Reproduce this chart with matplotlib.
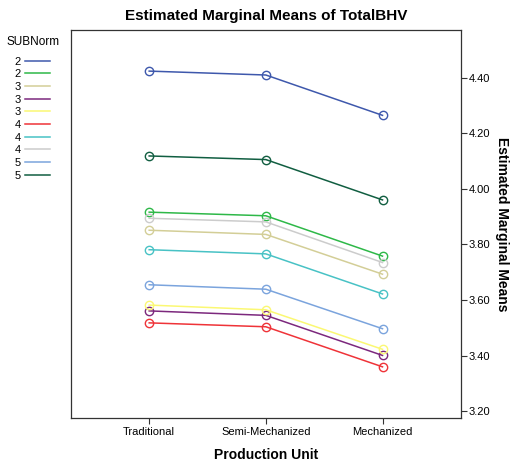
import matplotlib
matplotlib.use('Agg')
import matplotlib.pyplot as plt

plt.rcParams['font.family'] = ['Liberation Sans', 'DejaVu Sans']

# data
units = ['Traditional', 'Semi-Mechanized', 'Mechanized']
labels = ['2', '2', '3', '3', '3', '4', '4', '4', '5', '5']
colors = ['#3e58ac', '#2eb848', '#d3ce97', '#7c287d', '#fbf873',
          '#ef3338', '#48c2c5', '#cccccc', '#7ba4dd', '#115e41']
means = [
    [4.423, 4.409, 4.264],
    [3.916, 3.903, 3.758],
    [3.851, 3.836, 3.693],
    [3.561, 3.545, 3.401],
    [3.582, 3.565, 3.423],
    [3.518, 3.504, 3.360],
    [3.781, 3.766, 3.622],
    [3.894, 3.881, 3.735],
    [3.655, 3.639, 3.497],
    [4.118, 4.105, 3.960],
]
yticks = [3.2, 3.4, 3.6, 3.8, 4.0, 4.2, 4.4]

fig = plt.figure(figsize=(5.11, 4.62), dpi=100)
ax = fig.add_axes([0.139, 0.0946, 0.7625, 0.840])

x = range(len(units))
for lab, col, vals in zip(labels, colors, means):
    ax.plot(x, vals, color=col, lw=1.1, marker='o', ms=6,
            markerfacecolor='none', markeredgecolor=col, mew=1.0, label=lab)

ax.set_xlim(-0.67, 2.67)
ax.set_ylim(3.175, 4.57)
ax.set_xticks(list(x))
ax.set_xticklabels(units, fontsize=8)
ax.set_yticks(yticks)
ax.set_yticklabels(['%.2f' % t for t in yticks], fontsize=8)
ax.yaxis.tick_right()
ax.yaxis.set_label_position('right')
ax.tick_params(axis='both', direction='out', length=4, pad=2, color='#333333')
for s in ax.spines.values():
    s.set_color('#333333')
    s.set_linewidth(0.9)

ax.set_title('Estimated Marginal Means of TotalBHV', fontsize=11,
             fontweight='bold', pad=7)
ax.set_xlabel('Production Unit', fontsize=10, fontweight='bold', labelpad=8)
ax.set_ylabel('Estimated Marginal Means', fontsize=10, fontweight='bold',
              rotation=270, labelpad=13)

# legend title on its own, entries below with label before the line
fig.text(0.012, 0.909, 'SUBNorm', fontsize=8.5, va='center', ha='left')
leg = fig.legend(loc='upper left', bbox_to_anchor=(0.02, 0.887), frameon=False,
                 fontsize=8, markerfirst=False, handlelength=2.2,
                 labelspacing=0.24, handletextpad=0.4, borderaxespad=0.0)
for h in leg.legend_handles:
    h.set_marker('')

fig.savefig('out.png', dpi=100)
